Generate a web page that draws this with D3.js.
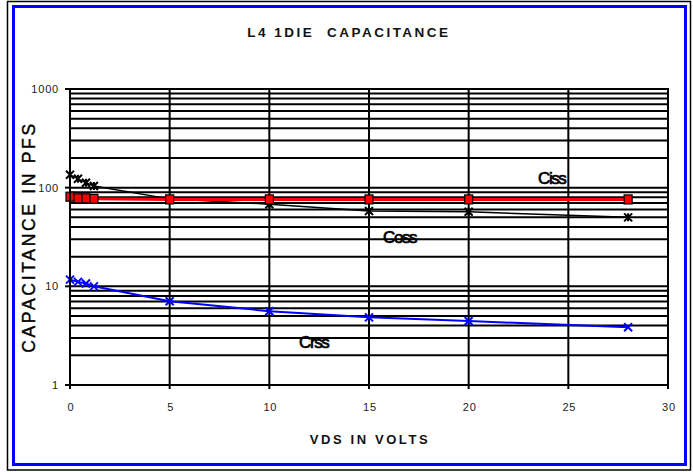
<!DOCTYPE html>
<html>
<head>
<meta charset="utf-8">
<script src="https://cdn.jsdelivr.net/npm/d3@7"></script>
<style>
  body { margin: 0; background: #fff; }
  text { font-family: "Liberation Sans", Arial, sans-serif; }
</style>
</head>
<body>
<svg id="chart"></svg>
<script>
const width = 693;
const height = 472;

// data
const vds = [0, 0.4, 0.8, 1.2, 5, 10, 15, 20, 28];
const ciss = [81, 78, 78, 77, 76, 76, 76, 76, 76];
const coss = [135, 123, 112, 104, 77, 68, 58, 57, 50];
const crss = [11.7, 11.1, 10.7, 10.0, 7.05, 5.6, 4.85, 4.45, 3.85];
const xTicks = [0, 5, 10, 15, 20, 25, 30];
const yTicks = [1, 10, 100, 1000];

const svg = d3.select('#chart')
    .attr('width', width)
    .attr('height', height);

// frames
svg.append('rect')
    .attr('x', 7.5).attr('y', 1.5)
    .attr('width', 683).attr('height', 468.5)
    .attr('fill', 'none').attr('stroke', '#000').attr('stroke-width', 1.5);
svg.append('rect')
    .attr('x', 13.5).attr('y', 6.5)
    .attr('width', 672).attr('height', 458)
    .attr('fill', 'none').attr('stroke', '#0000ff').attr('stroke-width', 3);

const x = d3.scaleLinear().domain([0, 30]).range([70, 668]);
const y = d3.scaleLog().domain([1, 1000]).range([385, 89]);

// horizontal grid at every minor value
const gridVals = [];
for (let d = 1; d < 1000; d *= 10) {
  for (let k = 1; k <= 9; k++) gridVals.push(d * k);
}
gridVals.push(1000);

svg.append('g')
  .selectAll('line')
  .data(gridVals)
  .enter().append('line')
    .attr('x1', x(0)).attr('x2', x(30))
    .attr('y1', d => y(d)).attr('y2', d => y(d))
    .attr('stroke', '#000').attr('stroke-width', 2);

svg.append('g')
  .selectAll('line')
  .data(xTicks)
  .enter().append('line')
    .attr('x1', d => x(d)).attr('x2', d => x(d))
    .attr('y1', y(1000)).attr('y2', y(1) + 4)
    .attr('stroke', '#000').attr('stroke-width', 2);

// y decade ticks
svg.append('g')
  .selectAll('line')
  .data(yTicks)
  .enter().append('line')
    .attr('x1', x(0) - 5).attr('x2', x(0))
    .attr('y1', d => y(d)).attr('y2', d => y(d))
    .attr('stroke', '#000').attr('stroke-width', 2);

// tick labels
svg.append('g')
  .selectAll('text')
  .data(yTicks)
  .enter().append('text')
    .attr('x', 59)
    .attr('y', d => y(d) + 4)
    .attr('text-anchor', 'end')
    .attr('font-size', 11)
    .attr('letter-spacing', 0.8)
    .attr('fill', '#222')
    .text(d => d);

svg.append('g')
  .selectAll('text')
  .data(xTicks)
  .enter().append('text')
    .attr('x', d => x(d) + 1)
    .attr('y', 411)
    .attr('text-anchor', 'middle')
    .attr('font-size', 11)
    .attr('letter-spacing', 0.8)
    .attr('fill', '#222')
    .text(d => d);

// titles
svg.append('text')
    .attr('x', 349).attr('y', 37)
    .attr('text-anchor', 'middle')
    .attr('font-size', 13.5).attr('font-weight', 'bold')
    .attr('letter-spacing', 2.5)
    .attr('fill', '#111')
    .attr('xml:space', 'preserve')
    .text('L4 1DIE  CAPACITANCE');

svg.append('text')
    .attr('x', 370).attr('y', 444)
    .attr('text-anchor', 'middle')
    .attr('font-size', 13).attr('font-weight', 'bold')
    .attr('letter-spacing', 2.6)
    .attr('fill', '#111')
    .text('VDS IN VOLTS');

svg.append('text')
    .attr('transform', 'translate(35,237) rotate(-90)')
    .attr('text-anchor', 'middle')
    .attr('font-size', 17.5)
    .attr('letter-spacing', 2.7)
    .attr('stroke', '#000').attr('stroke-width', 0.4)
    .text('CAPACITANCE IN PFS');

const line = d3.line()
    .x(d => x(d[0]))
    .y(d => y(d[1]));

// Crss
const crssPts = d3.zip(vds, crss);
svg.append('path')
    .datum(crssPts)
    .attr('d', line)
    .attr('fill', 'none').attr('stroke', '#0000ff').attr('stroke-width', 2);
svg.append('g')
  .selectAll('path')
  .data(crssPts)
  .enter().append('path')
    .attr('d', d => {
      const cx = x(d[0]), cy = y(d[1]);
      return `M${cx - 4},${cy - 4}L${cx + 4},${cy + 4}M${cx - 4},${cy + 4}L${cx + 4},${cy - 4}`;
    })
    .attr('stroke', '#0000ff').attr('stroke-width', 2);

// Coss
const cossPts = d3.zip(vds, coss);
svg.append('path')
    .datum(cossPts)
    .attr('d', line)
    .attr('fill', 'none').attr('stroke', '#000').attr('stroke-width', 1.5);
svg.append('g')
  .selectAll('path')
  .data(cossPts)
  .enter().append('path')
    .attr('d', d => {
      const cx = x(d[0]), cy = y(d[1]);
      return `M${cx - 4},${cy - 4}L${cx + 4},${cy + 4}M${cx - 4},${cy + 4}L${cx + 4},${cy - 4}M${cx},${cy - 4}L${cx},${cy + 4}`;
    })
    .attr('stroke', '#000').attr('stroke-width', 2);

// Ciss
const cissPts = d3.zip(vds, ciss);
svg.append('path')
    .datum(cissPts)
    .attr('d', line)
    .attr('fill', 'none').attr('stroke', '#ff0000').attr('stroke-width', 3);
svg.append('g')
  .selectAll('rect')
  .data(cissPts)
  .enter().append('rect')
    .attr('x', d => x(d[0]) - 4)
    .attr('y', d => y(d[1]) - 4.5)
    .attr('width', 8).attr('height', 9)
    .attr('fill', '#ff0000').attr('stroke', '#000').attr('stroke-width', 1.2);

// plot border
svg.append('rect')
    .attr('x', x(0)).attr('y', y(1000))
    .attr('width', x(30) - x(0)).attr('height', y(1) - y(1000))
    .attr('fill', 'none').attr('stroke', '#000').attr('stroke-width', 2);

// series labels
const labels = [
  { text: 'Ciss', x: 538, y: 184 },
  { text: 'Coss', x: 383, y: 243 },
  { text: 'Crss', x: 299, y: 348 }
];
svg.append('g')
  .selectAll('text')
  .data(labels)
  .enter().append('text')
    .attr('x', d => d.x).attr('y', d => d.y)
    .attr('font-size', 17)
    .attr('letter-spacing', -1.4)
    .attr('stroke', '#000').attr('stroke-width', 0.7)
    .text(d => d.text);
</script>
</body>
</html>
